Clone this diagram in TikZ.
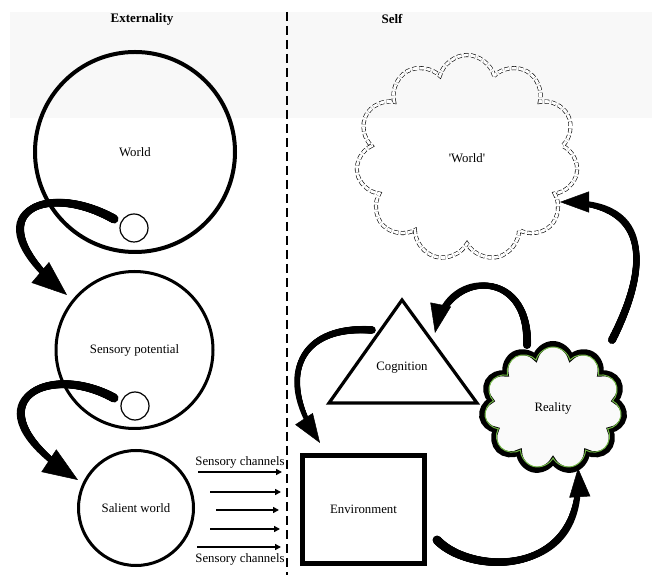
\documentclass[tikz,border=0pt]{standalone}
\usepackage{fontspec}
\setmainfont{Liberation Serif}
\usetikzlibrary{arrows.meta,shapes.symbols,decorations.markings}
\definecolor{bandgray}{HTML}{F8F8F8}
\definecolor{cloudgreen}{RGB}{115,185,70}
\tikzset{
  txt/.style={font=\fontsize{12.8}{15}\selectfont},
  headtxt/.style={font=\fontsize{13}{15}\selectfont\bfseries},
  ring/.style={circle, draw, inner sep=0pt, txt},
  smallring/.style={circle, draw, line width=1.2pt, minimum size=28pt, inner sep=0pt},
  taper/.style 2 args={postaction={decorate,decoration={markings,
    mark=between positions 0 and 0.86 step 0.5pt with {%
      \pgfmathsetmacro\tprad{#1+(#2-#1)*\pgfkeysvalueof{/pgf/decoration/mark info/distance from start}/\pgfdecoratedpathlength}%
      \fill circle (\tprad pt);}}}},
  bigarrow/.style={line width=#1, shorten >=10pt, postaction={decorate,decoration={markings,
    mark=at position 0.9999 with {\arrow[line width=0.5pt]{Triangle[length=35pt,width=27pt]}}}}},
  midarrow/.style={line width=#1, shorten >=9pt, postaction={decorate,decoration={markings,
    mark=at position 0.9999 with {\arrow[line width=0.5pt]{Triangle[length=29pt,width=21pt]}}}}},
  chan/.style={line width=2pt, -{Triangle[length=6pt,width=6pt]}},
  divider/.style={line width=2.6pt, dash pattern=on 9pt off 5pt},
}
\begin{document}
\begin{tikzpicture}[x=1pt,y=1pt]
\useasboundingbox (0,0) rectangle (652,575);
\fill[bandgray] (10,457) rectangle (652,563);
\draw[divider] (287,563) -- (287,0);

\node[headtxt] (ext) at (142,556) {Externality};
\node[headtxt] (self) at (392,556) {Self};

% Externality column
\node[ring, minimum size=200pt, line width=4pt] (world) at (135,423) {World};
\node[smallring] (sm1) at (134,347) {};
\node[ring, minimum size=157pt, line width=3pt] (sensory) at (134.5,225) {Sensory potential};
\node[smallring] (sm2) at (135,169) {};
\node[ring, minimum size=115pt, line width=3pt] (salient) at (136,67) {Salient world};

\coordinate (a1s) at (114,356);
\coordinate (a1e) at (67,280);
\coordinate (a2s) at (114,177);
\coordinate (a2e) at (78,95);
\draw[bigarrow=5pt, taper={4.5}{2.5}] (a1s) .. controls (45,395) and (-30,362) .. (a1e);
\draw[bigarrow=5pt, taper={4.5}{2.5}] (a2s) .. controls (45,215) and (-35,170) .. (a2e);

% Sensory channels
\node[txt] (chtop) at (240,113) {Sensory channels};
\node[txt] (chbot) at (240,16) {Sensory channels};
\coordinate (c1s) at (198,103); \coordinate (c1e) at (282,103);
\coordinate (c2s) at (210,83);  \coordinate (c2e) at (281,83);
\coordinate (c3s) at (216,65);  \coordinate (c3e) at (279,65);
\coordinate (c4s) at (210,46);  \coordinate (c4e) at (280,46);
\coordinate (c5s) at (197,28);  \coordinate (c5e) at (281,28);
\draw[chan] (c1s) -- (c1e);
\draw[chan] (c2s) -- (c2e);
\draw[chan] (c3s) -- (c3e);
\draw[chan] (c4s) -- (c4e);
\draw[chan] (c5s) -- (c5e);

% Self column
\node[cloud, cloud puffs=11, cloud puff arc=150, cloud ignores aspect, minimum width=222pt, minimum height=206pt,
      draw, line width=0.6pt, double distance=2.8pt, dash pattern=on 4.5pt off 2.5pt, txt]
      (wcloud) at (467,417) {\textquotesingle World\textquotesingle};

\node[draw, line width=5pt, minimum width=122pt, minimum height=108pt, inner sep=0pt, txt]
      (env) at (363.5,65.5) {Environment};

\coordinate (cogA) at (402,275);
\coordinate (cogL) at (329,172);
\coordinate (cogR) at (477,172);
\draw[line width=3.2pt, line join=miter] (cogA) -- (cogL) -- (cogR) -- cycle;
\node[txt] (cog) at (402,207) {Cognition};

\node[cloud, cloud puffs=11, cloud ignores aspect, minimum width=143pt, minimum height=128pt,
      draw, line width=6pt, fill=black!2] (realo) at (553,167) {};
\node[cloud, cloud puffs=11, cloud ignores aspect, minimum width=137pt, minimum height=122pt,
      draw=cloudgreen, line width=1pt, txt] (reality) at (553,167) {Reality};

\coordinate (b1s) at (372,245);
\coordinate (b1e) at (320,132);
\coordinate (b2s) at (527,230);
\coordinate (b2e) at (435,242);
\coordinate (b3s) at (437,35);
\coordinate (b3e) at (578,107);
\coordinate (b4s) at (612,235);
\coordinate (b4e) at (560,373);
\draw[midarrow=3.5pt, taper={3.8}{1.8}] (b1s) .. controls (300,250) and (275,200) .. (b1e);
\draw[midarrow=4pt, taper={4}{2.2}] (b2s) .. controls (530,307) and (448,307) .. (b2e);
\draw[midarrow=4pt, taper={4.5}{2.3}] (b3s) .. controls (470,0) and (585,-5) .. (b3e);
\draw[midarrow=4pt, taper={4}{2.3}] (b4s) .. controls (640,290) and (665,373) .. (b4e);
\end{tikzpicture}
\end{document}
